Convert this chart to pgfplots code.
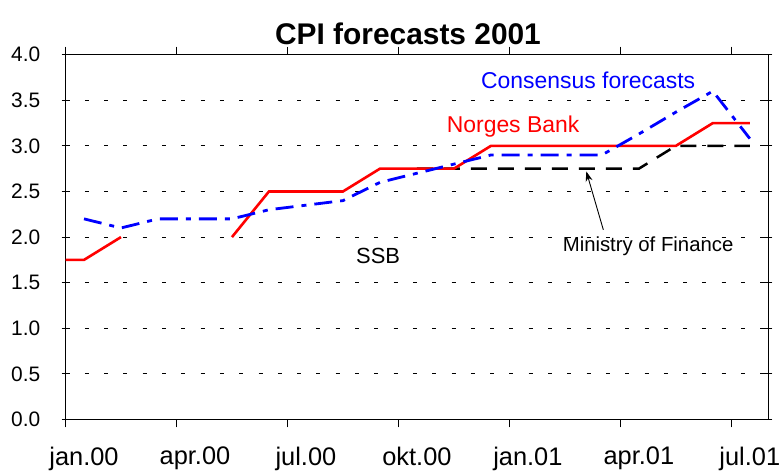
\documentclass[border=0pt]{standalone}
\usepackage{pgfplots}
\pgfplotsset{compat=1.18}
\usepackage{fontspec}
\setmainfont{Liberation Sans}
\usetikzlibrary{arrows.meta}
\begin{document}
\begin{tikzpicture}[x=1bp,y=1bp]
\path[use as bounding box] (0,0) rectangle (781,472);
\node[font=\fontsize{30}{32}\selectfont\bfseries, anchor=base, inner sep=0] at (408,427) {CPI forecasts 2001};
\begin{axis}[
  at={(65.5bp,52.5bp)}, anchor=south west,
  width=702.8bp, height=364.8bp, scale only axis,
  xmin=0, xmax=19, ymin=0, ymax=4,
  axis line style={line width=1.2bp},
  xtick={0,3,6,9,12,15,18}, xticklabels={},
  x tick style={line width=1bp, black}, 
  xtick align=outside, major tick length=8bp,
  extra x ticks={0.5,3.5,6.5,9.5,12.5,15.5,18.5},
  extra x tick labels={jan.00,apr.00,jul.00,okt.00,jan.01,apr.01,jul.01},
  extra x tick style={major tick length=0pt, grid=none,
     tick label style={font=\fontsize{25.5}{27}\selectfont, inner sep=0pt, anchor=north, yshift=-27.5bp}},
  ytick={0,0.5,...,4.0},
  /pgf/number format/fixed, /pgf/number format/fixed zerofill, /pgf/number format/precision=1,
  y tick label style={font=\fontsize{21}{23}\selectfont, inner sep=0pt, anchor=east, xshift=-21bp},
  y tick style={line width=1bp, black},
  ytick align=center,
  /pgf/number format/assume math mode=true,
  ymajorgrids, major grid style={black, line width=0.9bp, dash pattern=on 4bp off 15.3bp},
  clip=true,
]
\addplot[black, line width=2.5bp, dash pattern=on 16bp off 11bp] coordinates {
 (9.5,2.75) (10.5,2.75) (11.5,2.75) (12.5,2.75) (13.5,2.75) (14.5,2.75) (15.5,2.75) (16.5,3.0) (17.5,3.0) (18.5,3.0)};
\addplot[red, line width=2.6bp] coordinates {(0,1.75) (0.5,1.75) (1.5,2.0)};
\addplot[red, line width=2.6bp] coordinates {
 (4.5,2.0) (5.5,2.5) (6.5,2.5) (7.5,2.5) (8.5,2.75) (9.5,2.75) (10.5,2.75) (11.5,3.0) (12.5,3.0) (13.5,3.0) (14.5,3.0) (15.5,3.0) (16.5,3.0) (17.5,3.25) (18.5,3.25)};
\addplot[blue, line width=2.8bp, dash pattern=on 18bp off 8bp on 5bp off 8bp] coordinates {
 (0.5,2.2) (1.5,2.1) (2.5,2.2) (3.5,2.2) (4.5,2.2) (5.5,2.3) (6.5,2.35) (7.5,2.4) (8.5,2.6) (9.5,2.7) (10.5,2.8) (11.5,2.9) (12.5,2.9) (13.5,2.9) (14.5,2.9) (15.5,3.13) (16.5,3.37) (17.5,3.6) (18.5,3.08)};
\node[blue, font=\fontsize{23}{25}\selectfont, inner sep=0] at (axis cs:14.13,3.72) {Consensus forecasts};
\node[red, font=\fontsize{23}{25}\selectfont, inner sep=0] at (axis cs:12.10,3.21) {Norges Bank};
\node[black, font=\fontsize{20.4}{22}\selectfont, inner sep=0] at (axis cs:15.75,1.90) {Ministry of Finance};
\node[black, font=\fontsize{22}{24}\selectfont, inner sep=0] at (axis cs:8.45,1.79) {SSB};
\draw[black, line width=0.9bp, -{Stealth[length=10bp,width=7bp]}] (axis cs:14.54,2.08) -- (axis cs:14.08,2.72);
\end{axis}
\end{tikzpicture}
\end{document}
